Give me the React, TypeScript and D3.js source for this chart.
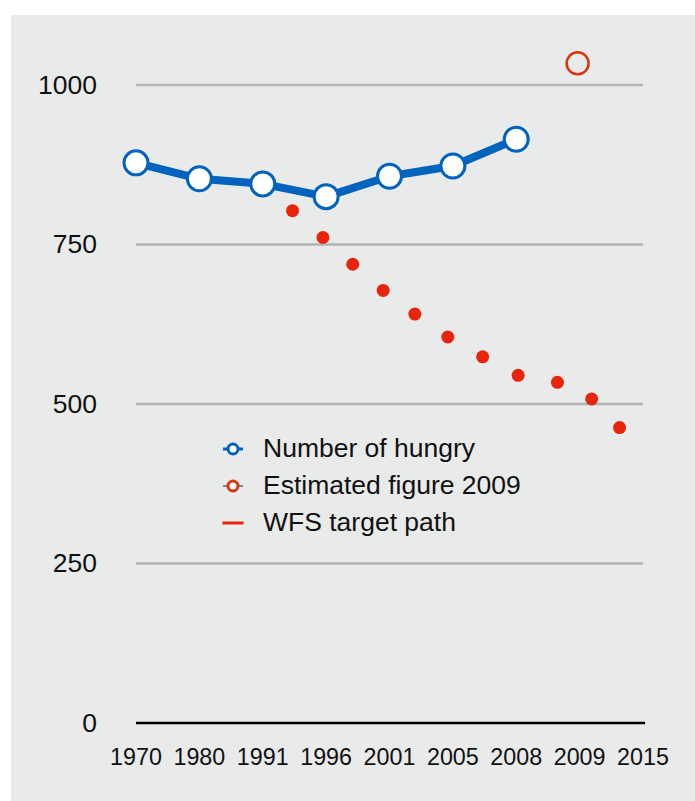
// Hunger chart — number of hungry vs WFS target path
import React from 'react';
import * as d3 from 'd3';

const years = ['1970', '1980', '1991', '1996', '2001', '2005', '2008', '2009', '2015'];
const hungryYears = ['1970', '1980', '1991', '1996', '2001', '2005', '2008'];
const hungryValues = [878, 853, 845, 825, 857, 873, 915];
const estimateYear = '2009';
const estimateValue = 1034;
// target path: position along the category axis (index units) and value
const targetPos = [2.47, 2.95, 3.42, 3.9, 4.4, 4.92, 5.47, 6.03, 6.65, 7.19, 7.63];
const targetValues = [803, 761, 719, 678, 641, 605, 574, 545, 534, 508, 463];
const yTicks = [0, 250, 500, 750, 1000];
const legendLabels = ['Number of hungry', 'Estimated figure 2009', 'WFS target path'];

const W = 695;
const H = 801;
const FONT = '"Liberation Sans", Arial, Helvetica, sans-serif';
const BLUE = '#0064bf';
const RED = '#e8240a';
const ORANGE = '#d9360f';

const App: React.FC = () => {
  const x = d3.scalePoint<string>().domain(years).range([136, 643]);
  const xIdx = d3.scaleLinear().domain([0, years.length - 1]).range([136, 643]);
  const y = d3.scaleLinear().domain([0, 1000]).range([723, 85]);

  const hungry = hungryYears.map((yr, i) => ({ yr, v: hungryValues[i] }));
  const line = d3.line<{ yr: string; v: number }>()
    .x((d) => x(d.yr) as number)
    .y((d) => y(d.v));

  const legendX = 233;
  const legendY = [449, 486, 523];

  return (
    <svg width={W} height={H} style={{ position: 'absolute', left: 0, top: 0, display: 'block' }}>
      <rect x={11} y={15} width={W - 11} height={H - 15} fill="#e9eaea" />

      {/* Сетка */}
      {yTicks.filter((t) => t > 0).map((t) => (
        <line key={t} x1={136} x2={643} y1={y(t)} y2={y(t)} stroke="#b3b3b3" strokeWidth={2.5} />
      ))}
      <line x1={136} x2={645} y1={y(0)} y2={y(0)} stroke="#000" strokeWidth={2.7} />

      {/* Ось Y */}
      {yTicks.map((t) => (
        <text key={t} x={97} y={y(t)} dy="0.33em" textAnchor="end" fontFamily={FONT} fontSize={26.5} fill="#111">
          {t}
        </text>
      ))}

      {/* Ось X */}
      {years.map((yr) => (
        <text key={yr} x={x(yr)} y={765} textAnchor="middle" fontFamily={FONT} fontSize={23.3} fill="#111">
          {yr}
        </text>
      ))}

      {/* WFS target path */}
      {targetPos.map((p, i) => (
        <circle key={i} cx={xIdx(p)} cy={y(targetValues[i])} r={6.5} fill={RED} />
      ))}

      {/* Number of hungry */}
      <path d={line(hungry) || ''} fill="none" stroke={BLUE} strokeWidth={8} strokeLinejoin="round" />
      {hungry.map((d) => (
        <circle key={d.yr} cx={x(d.yr)} cy={y(d.v)} r={12} fill="#fff" stroke={BLUE} strokeWidth={3} />
      ))}

      {/* Estimate 2009 */}
      <circle cx={(x(estimateYear) as number) - 2} cy={y(estimateValue)} r={11} fill="none" stroke={ORANGE} strokeWidth={2.5} />

      {/* Легенда */}
      <line x1={legendX - 10} x2={legendX + 10} y1={legendY[0]} y2={legendY[0]} stroke={BLUE} strokeWidth={3} />
      <circle cx={legendX} cy={legendY[0]} r={5} fill="#fff" stroke={BLUE} strokeWidth={3} />
      <line x1={legendX - 10} x2={legendX + 10} y1={legendY[1]} y2={legendY[1]} stroke="#6a8fb0" strokeWidth={2} />
      <circle cx={legendX} cy={legendY[1]} r={5} fill="#fff" stroke={ORANGE} strokeWidth={3} />
      <line x1={legendX - 10.5} x2={legendX + 10.5} y1={legendY[2]} y2={legendY[2]} stroke={RED} strokeWidth={3} />
      {legendLabels.map((l, i) => (
        <text key={l} x={263} y={legendY[i]} dy="0.3em" fontFamily={FONT} fontSize={26.5} fill="#111">
          {l}
        </text>
      ))}
    </svg>
  );
};

export default App;
